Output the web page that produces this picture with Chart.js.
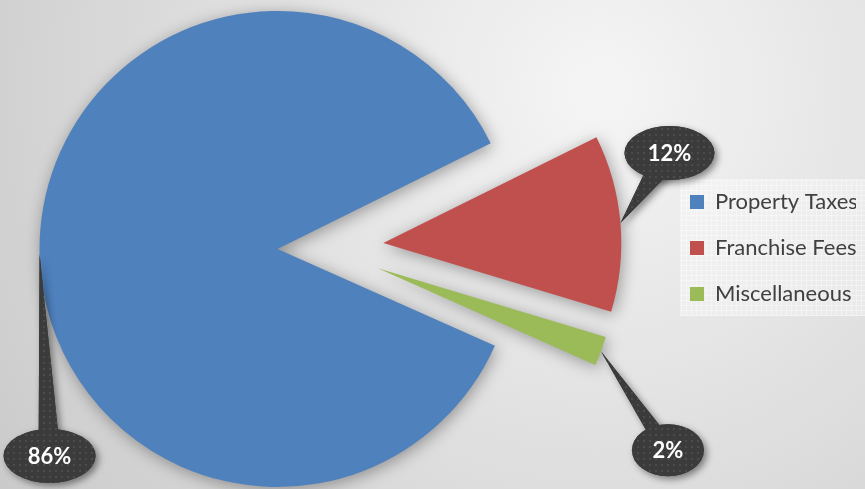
<!DOCTYPE html>
<html><head><meta charset="utf-8">
<script src="https://cdn.jsdelivr.net/npm/chart.js@4.4.1/dist/chart.umd.min.js"></script>
<style>
html,body{margin:0;padding:0;background:#d8d8d8;overflow:hidden;width:865px;height:489px}
#wrap{position:relative;width:865px;height:489px;overflow:hidden}
canvas{display:block;position:absolute;left:-19px;top:0}
</style>
</head><body>
<div id="wrap"><canvas id="c" width="884" height="489"></canvas></div>
<script>
// ---- data ----
const categories = ['Property Taxes', 'Franchise Fees', 'Miscellaneous'];
const shares = [86, 12, 2];
const percentLabels = ['86%', '12%', '2%'];

// ---- styles ----
const sliceColors = ['#4F81BD', '#C0504D', '#9BBB59'];
const explodePx = [46, 60, 58];
const PIE_R = 238;
const bubbleOffset = [[10, 202], [49, -70], [67, 99]];
const bubbleSize = [[46, 27], [45, 27], [36, 26]];
const bubbleBase = [11, 14, 9];
const LEG_PAD = 24;
const SHIFT = 19; // canvas is offset left by this much

function dotPattern(ctx) {
  const t = document.createElement('canvas');
  t.width = 6; t.height = 6;
  const g = t.getContext('2d');
  g.fillStyle = '#3b3b3b'; g.fillRect(0, 0, 6, 6);
  g.fillStyle = '#4c4c4c'; g.fillRect(2, 2, 2, 2);
  return ctx.createPattern(t, 'repeat');
}
function gridPattern(ctx) {
  const t = document.createElement('canvas');
  t.width = 5; t.height = 5;
  const g = t.getContext('2d');
  g.fillStyle = 'rgba(255,255,255,0.30)'; g.fillRect(0, 0, 5, 5);
  g.fillStyle = 'rgba(255,255,255,0.35)'; g.fillRect(0, 0, 5, 1); g.fillRect(0, 0, 1, 5);
  return ctx.createPattern(t, 'repeat');
}

const backdrop = {
  id: 'backdrop',
  beforeDraw(chart) {
    const ctx = chart.ctx, W = chart.width, H = chart.height;
    ctx.save();
    const gx = 600 + SHIFT, gy = 90;
    const grd = ctx.createRadialGradient(gx, gy, 0, gx, gy, 760);
    grd.addColorStop(0, '#f5f5f5');
    grd.addColorStop(0.45, '#e1e1e1');
    grd.addColorStop(1, '#c8c8c8');
    ctx.fillStyle = grd;
    ctx.fillRect(0, 0, W, H);
    const lg = chart.legend;
    if (lg && lg.columnSizes && lg.columnSizes.length) {
      const colH = lg.columnSizes[0].height;
      const cy = (lg.top + LEG_PAD + lg.bottom - colH) / 2;
      const x0 = lg.left + LEG_PAD - 10;
      const y0 = cy - 12;
      const y1 = cy + colH - LEG_PAD + 11;
      ctx.fillStyle = gridPattern(ctx);
      ctx.fillRect(x0, y0, W - x0, y1 - y0);
    }
    ctx.restore();
  }
};

// pull each slice out along its bisector
const explodeSlices = {
  id: 'explodeSlices',
  afterDatasetsUpdate(chart) {
    const meta = chart.getDatasetMeta(0);
    meta.data.forEach((arc, i) => {
      const half = (arc.startAngle + arc.endAngle) / 2;
      arc.x += Math.cos(half) * explodePx[i];
      arc.y += Math.sin(half) * explodePx[i];
    });
  }
};

const pieShadow = {
  id: 'pieShadow',
  beforeDatasetsDraw(chart) {
    const ctx = chart.ctx;
    ctx.save();
    ctx.shadowColor = 'rgba(0,0,0,0.35)';
    ctx.shadowBlur = 16;
    ctx.shadowOffsetX = 2;
    ctx.shadowOffsetY = 3;
  },
  afterDatasetsDraw(chart) { chart.ctx.restore(); }
};

const callouts = {
  id: 'callouts',
  afterDraw(chart) {
    const ctx = chart.ctx;
    const meta = chart.getDatasetMeta(0);
    const pat = dotPattern(ctx);
    meta.data.forEach((arc, i) => {
      const half = (arc.startAngle + arc.endAngle) / 2;
      const tx = arc.x + Math.cos(half) * arc.outerRadius;
      const ty = arc.y + Math.sin(half) * arc.outerRadius;
      const bx = tx + bubbleOffset[i][0], by = ty + bubbleOffset[i][1];
      const [rx, ry] = bubbleSize[i];
      const dx = bx - tx, dy = by - ty, L = Math.hypot(dx, dy);
      const px = -dy / L * bubbleBase[i], py = dx / L * bubbleBase[i];
      const tri = () => {
        ctx.beginPath();
        ctx.moveTo(tx, ty);
        ctx.lineTo(bx + px, by + py);
        ctx.lineTo(bx - px, by - py);
        ctx.closePath();
      };
      const ell = () => {
        ctx.beginPath();
        ctx.ellipse(bx, by, rx, ry, 0, 0, Math.PI * 2);
      };
      ctx.save();
      ctx.shadowColor = 'rgba(0,0,0,0.45)';
      ctx.shadowBlur = 7;
      ctx.shadowOffsetX = 3;
      ctx.shadowOffsetY = 3;
      ctx.fillStyle = '#3b3b3b';
      tri(); ctx.fill();
      ell(); ctx.fill();
      ctx.restore();
      ctx.save();
      ctx.fillStyle = pat;
      tri(); ctx.fill();
      ell(); ctx.fill();
      ctx.fillStyle = '#ffffff';
      ctx.font = 'bold 22px Lato';
      ctx.textAlign = 'center';
      ctx.textBaseline = 'middle';
      ctx.fillText(percentLabels[i], bx, by + 1);
      ctx.restore();
    });
  }
};

new Chart(document.getElementById('c'), {
  type: 'pie',
  data: {
    labels: categories,
    datasets: [{
      data: shares,
      backgroundColor: sliceColors,
      borderWidth: 0,
      hoverOffset: 0,
      radius: PIE_R,
      clip: false
    }]
  },
  options: {
    responsive: false,
    animation: false,
    devicePixelRatio: 1,
    rotation: 114,
    layout: { padding: { left: 0, right: 9, top: 7, bottom: 0 } },
    events: [],
    plugins: {
      tooltip: { enabled: false },
      legend: {
        position: 'right',
        align: 'center',
        maxWidth: 190,
        labels: {
          boxWidth: 14,
          boxHeight: 14,
          padding: LEG_PAD,
          color: '#404040',
          font: { family: 'Lato', size: 22 }
        }
      }
    }
  },
  plugins: [backdrop, explodeSlices, pieShadow, callouts]
});
</script>
</body></html>
